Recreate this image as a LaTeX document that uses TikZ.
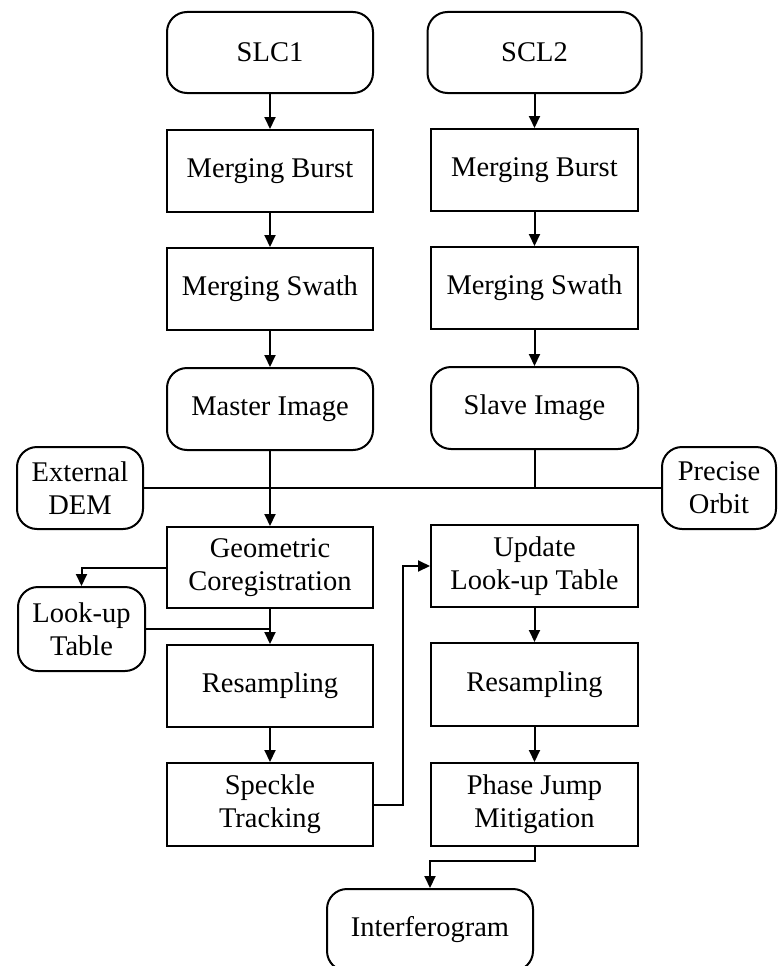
\documentclass[tikz,border=0pt]{standalone}
\usepackage{fontspec}
\setmainfont{Liberation Serif}
\usetikzlibrary{arrows.meta}
\begin{document}
\begin{tikzpicture}[x=1pt,y=-1pt,
  every node/.style={font=\fontsize{28.5}{33}\selectfont, align=center, inner sep=0pt},
  sqbox/.style={draw, line width=2pt, rectangle},
  rbox/.style={draw, line width=2pt, rectangle, rounded corners=20pt},
  conn/.style={line width=2pt},
  arr/.style={line width=2pt, -{Triangle[length=12pt,width=11pt]}}]
\useasboundingbox (0,0) rectangle (778,966);
\clip (0,0) rectangle (778,966);
% left column
\node[rbox, minimum width=206pt, minimum height=81pt] (slc1) at (270,52.5) {SLC1};
\node[sqbox, minimum width=206pt, minimum height=82pt] (mb1) at (270,171) {Merging Burst};
\node[sqbox, minimum width=206pt, minimum height=82pt] (ms1) at (270,289) {Merging Swath};
\node[rbox, minimum width=206pt, minimum height=82pt] (master) at (270,409) {Master Image};
\node[sqbox, minimum width=206pt, minimum height=81pt] (geom) at (270,567.5) {Geometric\\Coregistration};
\node[sqbox, minimum width=206pt, minimum height=82pt] (res1) at (270,686) {Resampling};
\node[sqbox, minimum width=206pt, minimum height=83pt] (speck) at (270,804.5) {Speckle\\Tracking};
% right column
\node[rbox, minimum width=214pt, minimum height=81pt] (scl2) at (534.5,52.5) {SCL2};
\node[sqbox, minimum width=207pt, minimum height=82pt] (mb2) at (534.5,170) {Merging Burst};
\node[sqbox, minimum width=207pt, minimum height=82pt] (ms2) at (534.5,288) {Merging Swath};
\node[rbox, minimum width=207pt, minimum height=82pt] (slave) at (534.5,408) {Slave Image};
\node[sqbox, minimum width=207pt, minimum height=82pt] (update) at (534.5,566) {Update\\Look-up Table};
\node[sqbox, minimum width=207pt, minimum height=83pt] (res2) at (534.5,684.5) {Resampling};
\node[sqbox, minimum width=207pt, minimum height=83pt] (phase) at (534.5,804.5) {Phase Jump\\Mitigation};
% side boxes
\node[rbox, minimum width=126pt, minimum height=82pt] (dem) at (80,488) {External\\DEM};
\node[rbox, minimum width=114pt, minimum height=82pt] (orbit) at (719,488) {Precise\\Orbit};
\node[rbox, minimum width=127pt, minimum height=84pt] (lut) at (81.5,629) {Look-up\\Table};
\node[rbox, minimum width=206pt, minimum height=82pt] (interf) at (430,930) {Interferogram};
% helper coordinates
\coordinate (bend) at (403,0);
\coordinate (jn) at (0,861);
% connectors
\draw[arr] (slc1) -- (mb1);
\draw[arr] (mb1) -- (ms1);
\draw[arr] (ms1) -- (master);
\draw[arr] (scl2) -- (mb2);
\draw[arr] (mb2) -- (ms2);
\draw[arr] (ms2) -- (slave);
\draw[conn] (dem.east) -- (orbit.west);
\draw[arr] (master) -- (geom);
\draw[conn] (slave.south) -- (slave.south |- dem.east);
\draw[arr] (geom.west) -| (lut.north);
\draw[arr] (geom) -- (res1);
\draw[conn] (lut.east) -- (lut.east -| res1.north);
\draw[arr] (res1) -- (speck);
\draw[arr] (speck.east) -- (speck.east -| bend) -- (bend |- update.west) -- (update.west);
\draw[arr] (update) -- (res2);
\draw[arr] (res2) -- (phase);
\draw[arr] (phase.south) -- (phase.south |- jn) -| (interf.north);
\end{tikzpicture}
\end{document}
